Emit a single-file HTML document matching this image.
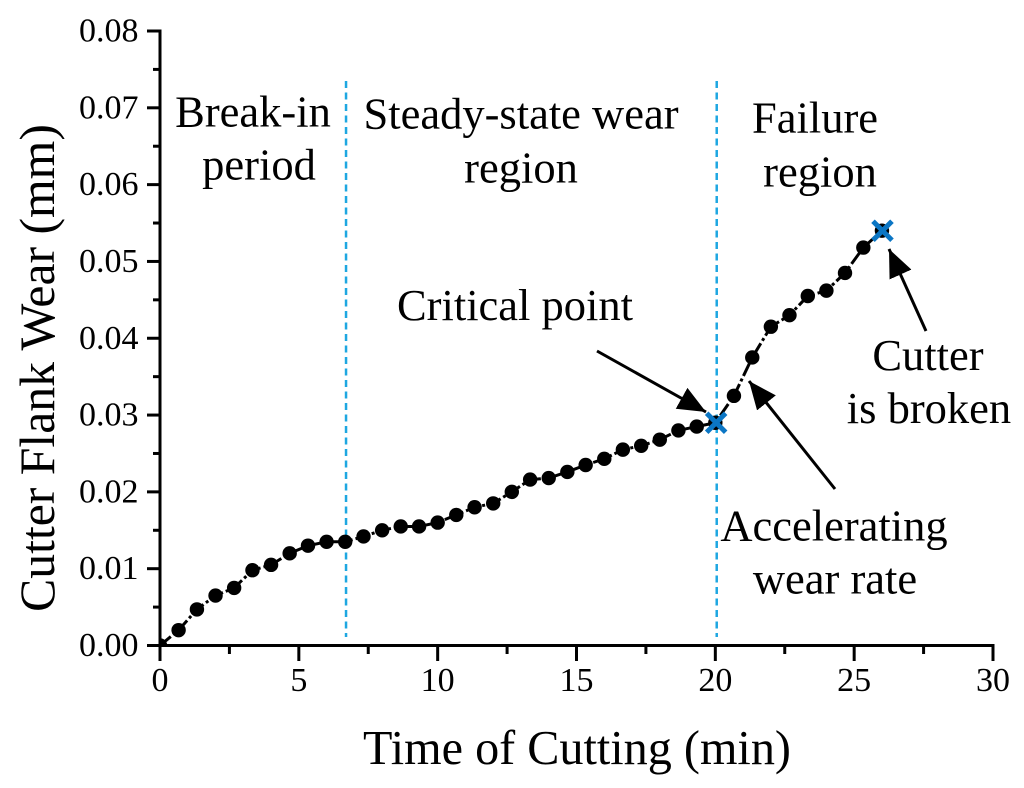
<!DOCTYPE html>
<html>
<head>
<meta charset="utf-8">
<title>Cutter Flank Wear</title>
<style>
html,body{margin:0;padding:0;background:#fff;}
svg{display:block;}
text{font-family:"Liberation Serif",serif;fill:#000;}
</style>
</head>
<body>
<svg id="chart" width="1024" height="788" viewBox="0 0 1024 788" xmlns="http://www.w3.org/2000/svg">
<defs>
<marker id="ah" markerUnits="userSpaceOnUse" markerWidth="30" markerHeight="26" refX="28" refY="13" orient="auto"><path d="M0,1 L28,13 L0,25 Z" fill="#000"/></marker>
<clipPath id="plot-clip"><rect x="160" y="20" width="850" height="626"/></clipPath>
</defs>
<g id="regions"></g>
<g id="series"></g>
<g id="axes"></g>
<g font-size="44.5" text-anchor="middle">
<text x="253" y="126.5">Break-in</text>
<text x="259" y="179.5">period</text>
<text x="521" y="128.5">Steady-state wear</text>
<text x="521" y="182.5">region</text>
<text x="815" y="132.5">Failure</text>
<text x="820" y="186.5">region</text>
</g>
<g font-size="44.5" text-anchor="middle">
<text x="515" y="320">Critical point</text>
<text x="928" y="370">Cutter</text>
<text x="929" y="423">is broken</text>
<text x="834" y="540.5">Accelerating</text>
<text x="835" y="593.5">wear rate</text>
<line x1="597" y1="351" x2="706" y2="412" stroke="#000" stroke-width="3" marker-end="url(#ah)"/>
<line x1="835" y1="489" x2="749" y2="381" stroke="#000" stroke-width="3" marker-end="url(#ah)"/>
<line x1="926" y1="331" x2="889" y2="249" stroke="#000" stroke-width="3" marker-end="url(#ah)"/>
</g>
<text x="577" y="764" font-size="48.2" text-anchor="middle">Time of Cutting (min)</text>
<text transform="translate(54 368) rotate(-90)" font-size="49.7" text-anchor="middle">Cutter Flank Wear (mm)</text>
</svg>
<script>
const cuttingTimes = [0,0.67,1.33,2,2.67,3.33,4,4.67,5.33,6,6.67,7.33,8,8.67,9.33,10,10.67,11.33,12,12.67,13.33,14,14.67,15.33,16,16.67,17.33,18,18.67,19.33,20,20.67,21.33,22,22.67,23.33,24,24.67,25.33,26];
const flankWear = [0,0.002,0.0047,0.0065,0.0075,0.0098,0.0105,0.012,0.013,0.0135,0.0135,0.0142,0.015,0.0155,0.0155,0.016,0.017,0.018,0.0185,0.02,0.0216,0.0218,0.0226,0.0235,0.0243,0.0255,0.026,0.0268,0.028,0.0285,0.029,0.0325,0.0375,0.0415,0.043,0.0455,0.0462,0.0485,0.0518,0.054];
const xTickLabels = ['0','5','10','15','20','25','30'];
const yTickLabels = ['0.00','0.01','0.02','0.03','0.04','0.05','0.06','0.07','0.08'];
const regionBoundaries = [6.7,20.05];
const keyPointTimes = [20.03,26.02];
const keyPointWear = [0.029,0.054];

const NS = 'http://www.w3.org/2000/svg';
const xMin = 0, xMax = 30, yMin = 0, yMax = 0.08;
const sx = v => 160 + (v - xMin) / (xMax - xMin) * 833;
const sy = v => 645.5 - (v - yMin) / (yMax - yMin) * 614.5;
function mk(parent, tag, attrs, text) {
  const el = document.createElementNS(NS, tag);
  for (const k in attrs) el.setAttribute(k, attrs[k]);
  if (text !== undefined) el.textContent = text;
  parent.appendChild(el);
  return el;
}
const regions = document.getElementById('regions');
const series = document.getElementById('series');
const axes = document.getElementById('axes');

regionBoundaries.forEach(b => {
  const el = mk(regions, 'line', {x1: sx(b), x2: sx(b), y1: 81, y2: 637, stroke: '#1ea7e1', 'stroke-width': 2.5, 'stroke-dasharray': '7 4.5'});
  
  
});

const wearLine = mk(series, 'polyline', {
  points: cuttingTimes.map((t, i) => sx(t) + ',' + sy(flankWear[i])).join(' '),
  fill: 'none', stroke: '#000', 'stroke-width': 3, 'stroke-dasharray': '14 3 3 3'
});



const pointGroup = mk(series, 'g', {'clip-path': 'url(#plot-clip)'});


cuttingTimes.forEach((t, i) => {
  const p = mk(pointGroup, 'circle', {cx: sx(t), cy: sy(flankWear[i]), r: 7.2, fill: '#000'});
  
  
});

keyPointTimes.forEach((t, i) => {
  const cx = sx(t), cy = sy(keyPointWear[i]), h = 9.5;
  const g = mk(series, 'path', {d: `M${cx-h},${cy-h}L${cx+h},${cy+h}M${cx-h},${cy+h}L${cx+h},${cy-h}`, stroke: '#0b76c4', 'stroke-width': 5, fill: 'none'});
  
  
});

const xAxisLine = mk(axes, 'line', {x1: 147, x2: 994.5, y1: sy(0), y2: sy(0), stroke: '#000', 'stroke-width': 3});


const yAxisLine = mk(axes, 'line', {x1: 160, x2: 160, y1: 29.5, y2: 660, stroke: '#000', 'stroke-width': 3});



xTickLabels.forEach((lab, i) => {
  const v = Number(lab);
  const t = mk(axes, 'line', {x1: sx(v), x2: sx(v), y1: 646, y2: 661, stroke: '#000', 'stroke-width': 3});
  
  
  const l = mk(axes, 'text', {x: sx(v), y: 691, 'font-size': 34, 'text-anchor': 'middle'}, lab);
  
  
  if (i < xTickLabels.length - 1) {
    const m = mk(axes, 'line', {x1: sx(v + 2.5), x2: sx(v + 2.5), y1: 646, y2: 654, stroke: '#000', 'stroke-width': 3});
    
    
  }
});

yTickLabels.forEach((lab, i) => {
  const v = Number(lab);
  const t = mk(axes, 'line', {x1: 147, x2: 160, y1: sy(v), y2: sy(v), stroke: '#000', 'stroke-width': 3});
  
  
  const l = mk(axes, 'text', {x: 138.5, y: sy(v) + 10.5, 'font-size': 34, 'text-anchor': 'end'}, lab);
  
  
  if (i < yTickLabels.length - 1) {
    const m = mk(axes, 'line', {x1: 153, x2: 160, y1: sy(v + 0.005), y2: sy(v + 0.005), stroke: '#000', 'stroke-width': 3});
    
    
  }
});
</script>
</body>
</html>
